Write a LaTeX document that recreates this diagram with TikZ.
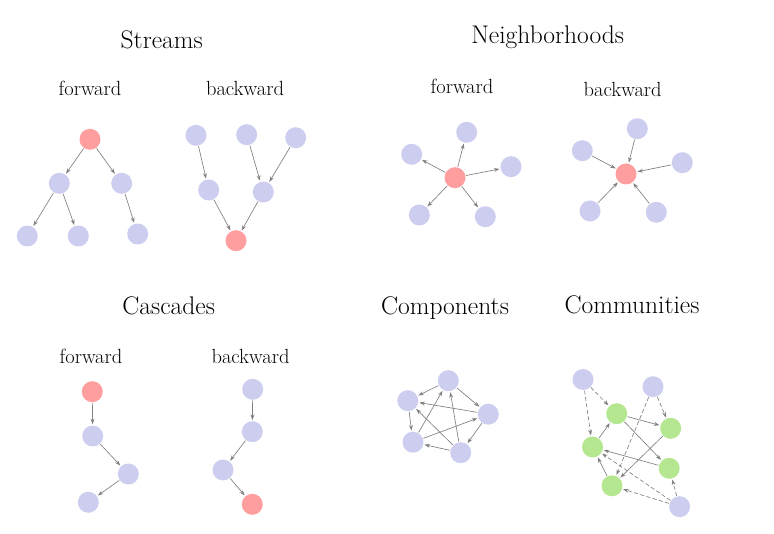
\documentclass[tikz,border=0pt]{standalone}
\usepackage{fontspec}
\usetikzlibrary{arrows.meta}
\definecolor{lav}{HTML}{CDCDF0}
\definecolor{salmon}{HTML}{FF9E9E}
\definecolor{lgreen}{HTML}{B4E78F}
\definecolor{edgegray}{HTML}{7F7F7F}
\tikzset{
  vtx/.style={circle,inner sep=0pt,minimum size=21pt,fill=lav},
  hot/.style={vtx,fill=salmon},
  grn/.style={vtx,fill=lgreen},
  arr/.style={draw=edgegray,line width=0.65pt,-{Stealth[length=5.5pt,width=3.8pt]},shorten >=1pt,shorten <=0.5pt},
  darr/.style={arr,dash pattern=on 4pt off 2.5pt},
  ttl/.style={anchor=base,inner sep=0pt,font=\fontsize{25.5}{30}\selectfont},
  sub/.style={anchor=base,inner sep=0pt,font=\fontsize{20.5}{24}\selectfont},
}
\begin{document}
\begin{tikzpicture}[x=1pt,y=-1pt]
\useasboundingbox (0,0) rectangle (774,534);
% titles
\node[ttl] (tS) at (161.7,48.3) {Streams};
\node[ttl] (tN) at (547.7,43.3) {Neighborhoods};
\node[ttl] (tC) at (168.7,314.3) {Cascades};
\node[ttl] (tCo) at (445,314.3) {Components};
\node[ttl] (tCm) at (632,313.5) {Communities};
\node[sub] (sSf) at (90,96) {forward};
\node[sub] (sSb) at (245,96) {backward};
\node[sub] (sNf) at (462,94) {forward};
\node[sub] (sNb) at (622.7,96.7) {backward};
\node[sub] (sCf) at (91,363.3) {forward};
\node[sub] (sCb) at (250.5,363.3) {backward};
% Streams forward
\node[hot] (sf0) at (90,139.3) {};
\node[vtx] (sf1) at (59.3,183.3) {};
\node[vtx] (sf2) at (121.7,183.3) {};
\node[vtx] (sf3) at (27.3,236) {};
\node[vtx] (sf4) at (78.3,236) {};
\node[vtx] (sf5) at (137.7,234) {};
\draw[arr] (sf0) -- (sf1);
\draw[arr] (sf0) -- (sf2);
\draw[arr] (sf1) -- (sf3);
\draw[arr] (sf1) -- (sf4);
\draw[arr] (sf2) -- (sf5);
% Streams backward
\node[vtx] (sb1) at (196,135.3) {};
\node[vtx] (sb2) at (246.7,134.7) {};
\node[vtx] (sb3) at (295.7,137.7) {};
\node[vtx] (sb4) at (208.7,190) {};
\node[vtx] (sb5) at (263.3,192) {};
\node[hot] (sb6) at (236,240.7) {};
\draw[arr] (sb1) -- (sb4);
\draw[arr] (sb2) -- (sb5);
\draw[arr] (sb3) -- (sb5);
\draw[arr] (sb4) -- (sb6);
\draw[arr] (sb5) -- (sb6);
% Neighborhoods forward
\node[hot] (nf0) at (455,177.7) {};
\node[vtx] (nf1) at (466.7,132.3) {};
\node[vtx] (nf2) at (411.7,154.3) {};
\node[vtx] (nf3) at (511,166.7) {};
\node[vtx] (nf4) at (419.3,215) {};
\node[vtx] (nf5) at (485.3,216.7) {};
\foreach \t in {nf1,nf2,nf3,nf4,nf5} \draw[arr] (nf0) -- (\t);
% Neighborhoods backward
\node[hot] (nb0) at (626,174) {};
\node[vtx] (nb1) at (637.3,128.7) {};
\node[vtx] (nb2) at (582.3,150.7) {};
\node[vtx] (nb3) at (682.3,162.7) {};
\node[vtx] (nb4) at (590,211) {};
\node[vtx] (nb5) at (656.3,212.3) {};
\foreach \s in {nb1,nb2,nb3,nb4,nb5} \draw[arr] (\s) -- (nb0);
% Cascades forward
\node[hot] (cf0) at (92.3,391.7) {};
\node[vtx] (cf1) at (92.7,436) {};
\node[vtx] (cf2) at (128.3,474) {};
\node[vtx] (cf3) at (88.3,502.3) {};
\draw[arr] (cf0) -- (cf1);
\draw[arr] (cf1) -- (cf2);
\draw[arr] (cf2) -- (cf3);
% Cascades backward
\node[vtx] (cb0) at (252.7,389.3) {};
\node[vtx] (cb1) at (252.3,431.7) {};
\node[vtx] (cb2) at (223,470) {};
\node[hot] (cb3) at (252.3,504.3) {};
\draw[arr] (cb0) -- (cb1);
\draw[arr] (cb1) -- (cb2);
\draw[arr] (cb2) -- (cb3);
% Components
\node[vtx] (ct) at (448.3,380.7) {};
\node[vtx] (cl) at (407.8,400.7) {};
\node[vtx] (cr) at (488.3,414.2) {};
\node[vtx] (cbl) at (413,442.2) {};
\node[vtx] (cbr) at (460.7,452.7) {};
\draw[arr] (ct) -- (cl);
\draw[arr] (ct) -- (cr);
\draw[arr] (cr) -- (cl);
\draw[arr] (cl) -- (cbl);
\draw[arr] (cr) -- (cbr);
\draw[arr] (cbr) -- (cbl);
\draw[arr] (cbl) -- (ct);
\draw[arr] (cbl) -- (cr);
\draw[arr] (cbr) -- (ct);
\draw[arr] (cbr) -- (cl);
% Communities
\node[vtx] (mTL) at (583,379.5) {};
\node[vtx] (mTR) at (653,386.7) {};
\node[grn] (g1) at (616.7,413.7) {};
\node[grn] (g2) at (670.7,428.3) {};
\node[grn] (g3) at (592.5,447) {};
\node[grn] (g4) at (669.2,468.3) {};
\node[grn] (g5) at (612,485.8) {};
\node[vtx] (mB) at (679.6,506.7) {};
\draw[darr] (mTL) -- (g1);
\draw[darr] (mTL) -- (g3);
\draw[darr] (mTR) -- (g2);
\draw[darr] (mTR) -- (g5);
\draw[arr] (g3) -- (g1);
\draw[arr] (g1) -- (g2);
\draw[arr] (g1) -- (g4);
\draw[arr] (g4) -- (g3);
\draw[arr] (g2) -- (g5);
\draw[arr] (g5) -- (g3);
\draw[darr] (mB) -- (g4);
\draw[darr] (mB) -- (g5);
\draw[darr] (mB) -- (g3);
\end{tikzpicture}
\end{document}
